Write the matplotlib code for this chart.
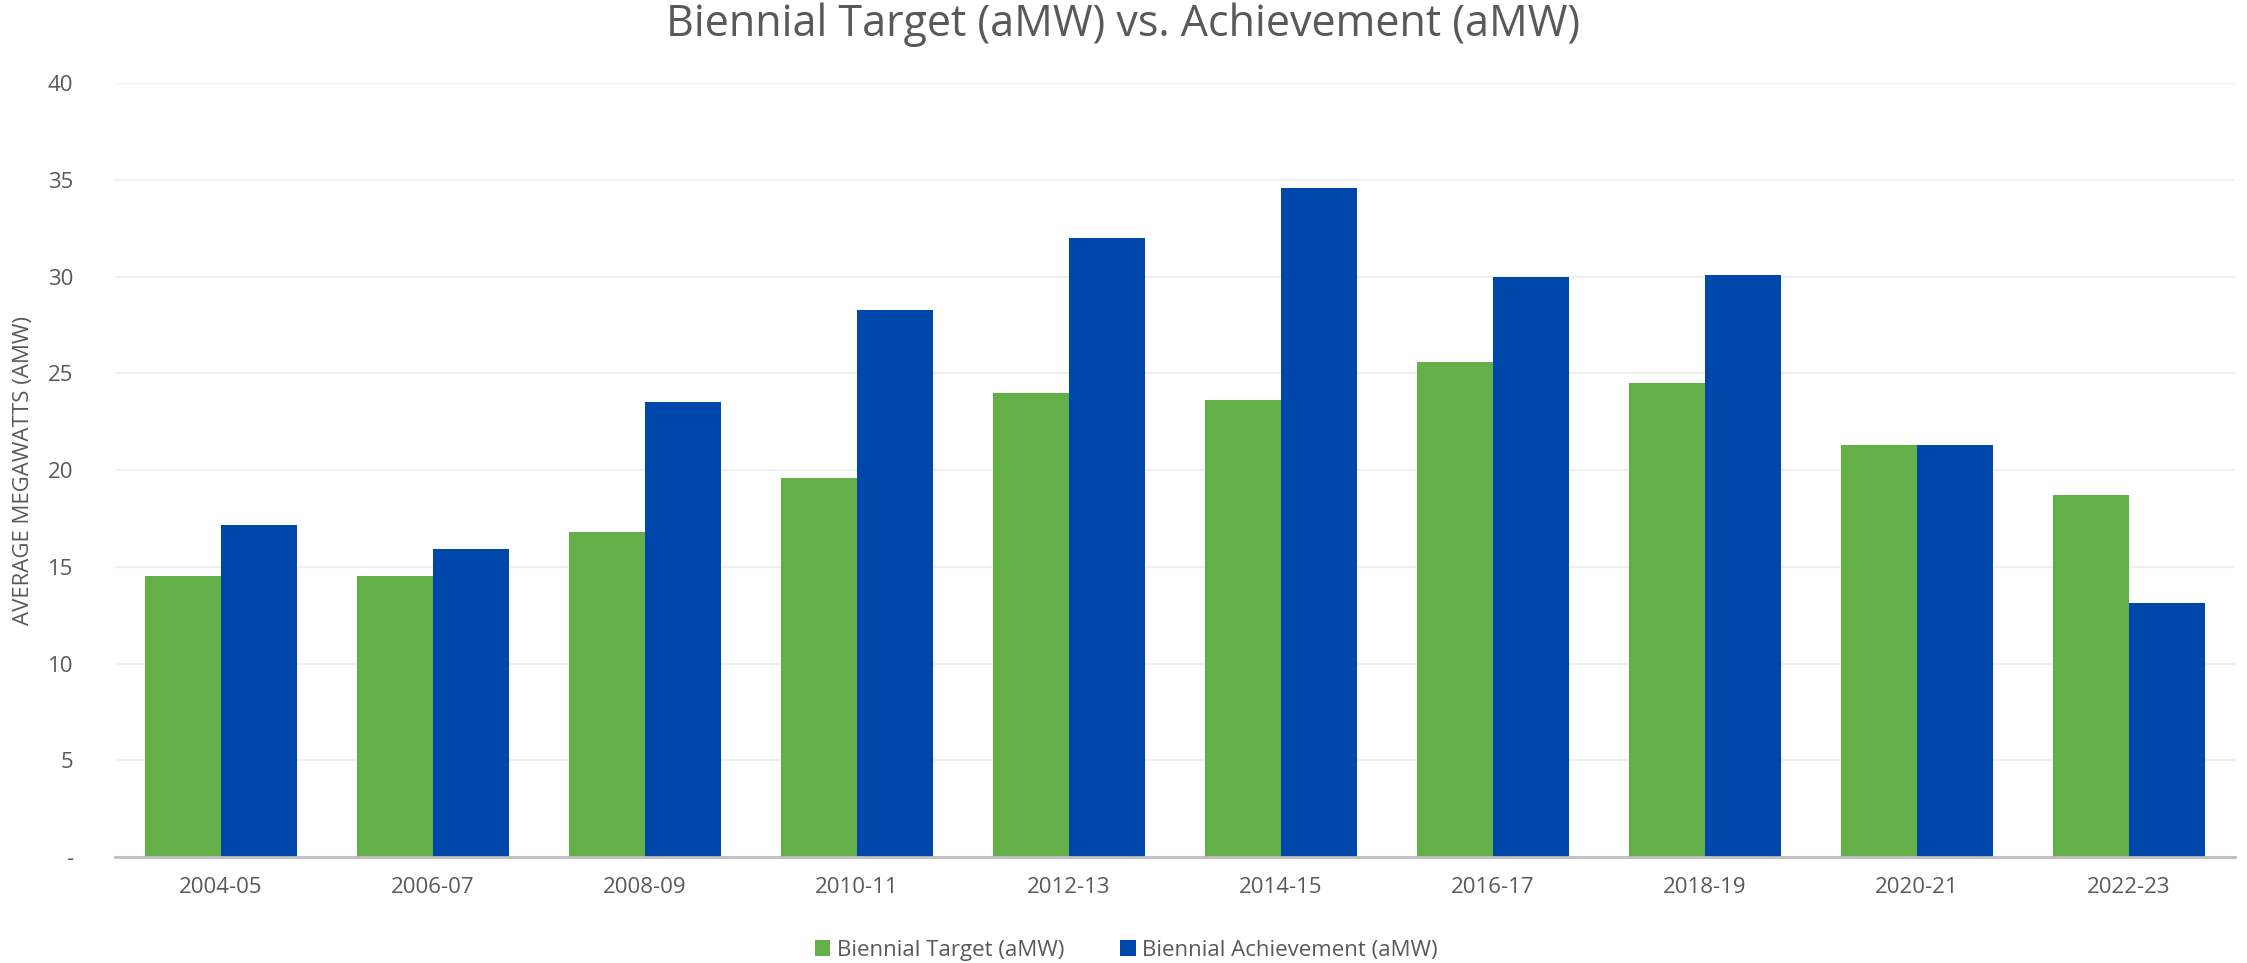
import matplotlib
matplotlib.use("Agg")
import matplotlib.pyplot as plt
import numpy as np
from matplotlib.ticker import FuncFormatter

plt.rcParams['font.family'] = ['Open Sans', 'DejaVu Sans']

periods = ["2004-05", "2006-07", "2008-09", "2010-11", "2012-13",
           "2014-15", "2016-17", "2018-19", "2020-21", "2022-23"]
target = [14.5, 14.5, 16.8, 19.6, 24.0, 23.6, 25.6, 24.5, 21.3, 18.7]
achievement = [17.15, 15.9, 23.5, 28.25, 32.0, 34.6, 30.0, 30.1, 21.3, 13.15]

green = "#62B047"
blue = "#0047AB"
grey = "#595959"

fig = plt.figure(figsize=(22.47, 9.63), dpi=100)
ax = fig.add_axes([0.0512, 0.110, 0.9435, 0.8038])

x = np.arange(len(periods))
w = 0.358
ax.bar(x - w/2, target, w, color=green, label="Biennial Target (aMW)", zorder=3)
ax.bar(x + w/2, achievement, w, color=blue, label="Biennial Achievement (aMW)", zorder=3)

ax.set_xlim(-0.5, len(periods) - 0.5)
ax.set_ylim(0, 40)
ax.set_yticks(range(0, 41, 5))
ax.yaxis.set_major_formatter(FuncFormatter(lambda v, p: "-" if v == 0 else f"{int(v)}"))
ax.set_xticks(x)
ax.set_xticklabels(periods)
ax.tick_params(axis='both', length=0, labelsize=16, colors=grey)
ax.tick_params(axis='y', pad=30)
ax.tick_params(axis='x', pad=14)

ax.grid(axis='y', color="#F0F0F0", linewidth=1.6, zorder=0)
for s in ["top", "right", "left"]:
    ax.spines[s].set_visible(False)
ax.spines["bottom"].set_color("#BFBFBF")
ax.spines["bottom"].set_linewidth(2)
ax.spines["bottom"].set_zorder(4)

ax.set_ylabel("AVERAGE MEGAWATTS (AMW)", fontsize=16, color=grey, labelpad=10)
fig.suptitle("Biennial Target (aMW) vs. Achievement (aMW)", fontsize=31, color=grey, y=0.997)

ax.legend(loc="lower center", bbox_to_anchor=(0.477, -0.16), ncol=2, frameon=False,
          fontsize=16, labelcolor=grey, handlelength=0.7, handleheight=0.7,
          handletextpad=0.3, columnspacing=2.5)

fig.savefig("out.png", dpi=100)
